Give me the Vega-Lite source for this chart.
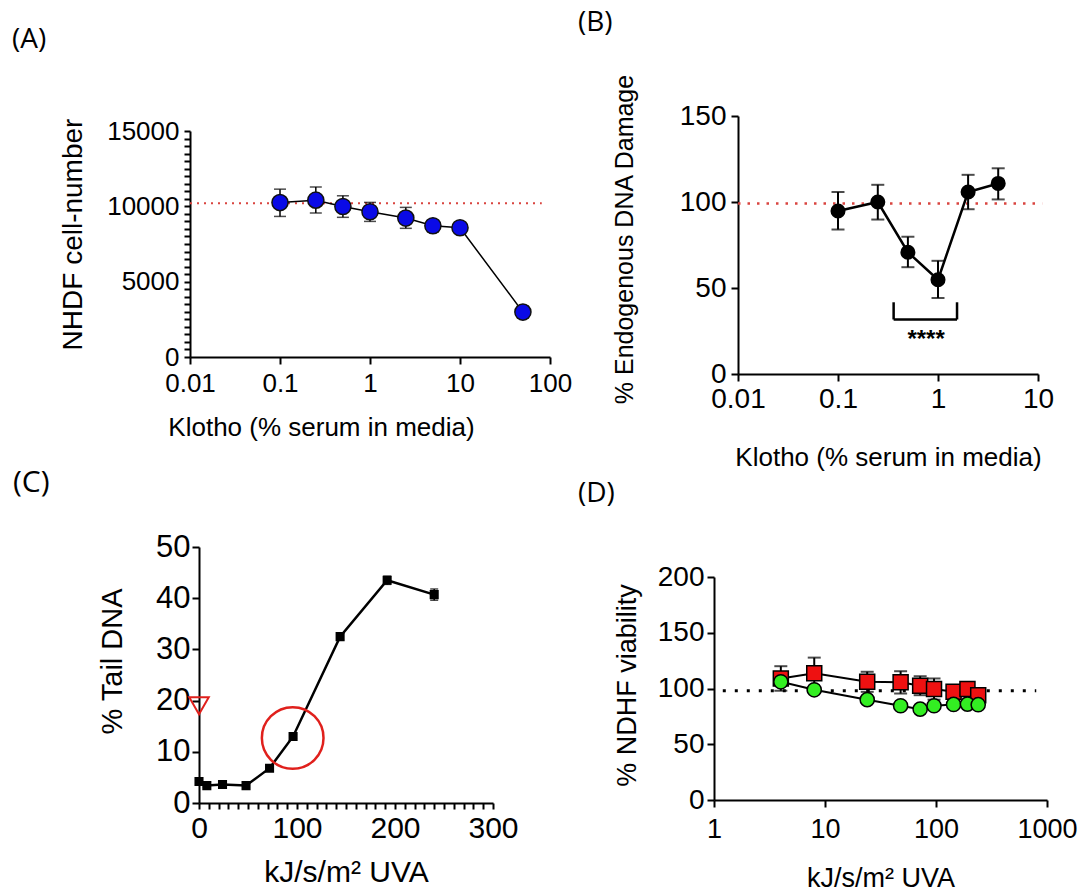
{
  "$schema": "https://vega.github.io/schema/vega-lite/v6.json",
  "background": "white",
  "padding": {"left": 12, "top": 8, "right": 0, "bottom": 0},
  "datasets": {
    "A": [
      {"x": 0.1, "y": 10250, "lo": 9330, "hi": 11140},
      {"x": 0.25, "y": 10410, "lo": 9550, "hi": 11290},
      {"x": 0.5, "y": 9990, "lo": 9270, "hi": 10700},
      {"x": 1, "y": 9640, "lo": 9000, "hi": 10260},
      {"x": 2.5, "y": 9220, "lo": 8540, "hi": 9930},
      {"x": 5, "y": 8710, "lo": 8300, "hi": 9050},
      {"x": 10, "y": 8580, "lo": 8450, "hi": 8710},
      {"x": 50, "y": 2980, "lo": 2580, "hi": 3380}
    ],
    "refA": [{"x": 0.01, "x2": 81, "y": 10200}],
    "B": [
      {"x": 0.1, "y": 94.8, "lo": 84, "hi": 105.8},
      {"x": 0.25, "y": 100, "lo": 89.8, "hi": 110},
      {"x": 0.5, "y": 70.8, "lo": 62.1, "hi": 79.8},
      {"x": 1, "y": 54.8, "lo": 44.2, "hi": 65.8},
      {"x": 2, "y": 105.8, "lo": 95.8, "hi": 115.8},
      {"x": 4, "y": 110.8, "lo": 101.5, "hi": 119.6}
    ],
    "refB": [{"x": 0.01, "x2": 11, "y": 99.2}],
    "bracketB": [
      {"x": 0.36, "x2": 1.55, "y": 31.7, "y2": 31.7},
      {"x": 0.36, "x2": 0.36, "y": 31.7, "y2": 41.7},
      {"x": 1.55, "x2": 1.55, "y": 31.7, "y2": 41.7}
    ],
    "starB": [{"x": 0.76, "y": 20, "label": "****"}],
    "C": [
      {"x": 0, "y": 4.2, "lo": 3.9, "hi": 4.5},
      {"x": 8, "y": 3.4, "lo": 3.1, "hi": 3.7},
      {"x": 24, "y": 3.6, "lo": 3.3, "hi": 3.9},
      {"x": 48, "y": 3.4, "lo": 3.1, "hi": 3.7},
      {"x": 72, "y": 6.8, "lo": 6.5, "hi": 7.1},
      {"x": 96, "y": 13.0, "lo": 12.6, "hi": 13.4},
      {"x": 144, "y": 32.5, "lo": 31.9, "hi": 33.1},
      {"x": 192, "y": 43.5, "lo": 42.7, "hi": 44.3},
      {"x": 240, "y": 40.7, "lo": 39.6, "hi": 41.8}
    ],
    "triC": [{"x": 0, "y": 19}],
    "ringC": [{"x": 95.6, "y": 12.7}],
    "Dred": [
      {"x": 4, "y": 109, "lo": 98, "hi": 120},
      {"x": 8, "y": 113.7, "lo": 99.7, "hi": 127.7},
      {"x": 24, "y": 106, "lo": 97, "hi": 115},
      {"x": 48, "y": 105.5, "lo": 95.5, "hi": 115.5},
      {"x": 72, "y": 102.5, "lo": 94, "hi": 111},
      {"x": 96, "y": 99.5, "lo": 90, "hi": 109},
      {"x": 144, "y": 97, "lo": 93, "hi": 101},
      {"x": 192, "y": 99.5, "lo": 95.5, "hi": 103.5},
      {"x": 240, "y": 94, "lo": 91, "hi": 97}
    ],
    "Dgreen": [
      {"x": 4, "y": 106},
      {"x": 8, "y": 98.8},
      {"x": 24, "y": 90},
      {"x": 48, "y": 84.5},
      {"x": 72, "y": 81.5},
      {"x": 96, "y": 84.5},
      {"x": 144, "y": 85.7},
      {"x": 192, "y": 86},
      {"x": 240, "y": 85.5}
    ],
    "refD": [{"x": 1.2, "x2": 800, "y": 98}]
  },
  "columns": 1,
  "align": "none",
  "spacing": -2,
  "concat": [
    {
      "hconcat": [
        {
          "width": 360,
          "height": 241,
          "title": {"text": "(A)", "anchor": "start", "frame": "group", "dx": -178, "offset": 62, "fontSize": 28, "font": "Open Sans", "fontWeight": "normal", "color": "black"},
          "data": {"name": "A"},
          "encoding": {
            "x": {"field": "x", "type": "quantitative",
              "scale": {"type": "log", "domain": [0.01, 100], "nice": false},
              "axis": {"values": [0.01, 0.1, 1, 10, 100], "format": "~g", "title": "Klotho (% serum in media)", "titleX": 131, "labelFontSize": 26, "titleFontSize": 26, "titlePadding": 18, "labelPadding": 6, "labelFlush": false, "labelOverlap": false}},
            "y": {"field": "y", "type": "quantitative",
              "scale": {"domain": [0, 15000], "range": [241, 15], "nice": false, "zero": false},
              "axis": {"values": [0,500,1000,1500,2000,2500,3000,3500,4000,4500,5000,5500,6000,6500,7000,7500,8000,8500,9000,9500,10000,10500,11000,11500,12000,12500,13000,13500,14000,14500,15000],
                "format": "d", "labelExpr": "datum.value % 5000 === 0 ? datum.label : ''", "title": "NHDF cell-number", "titleY": 118, "labelFontSize": 26, "titleFontSize": 28, "tickSize": 6, "labelPadding": 5, "titlePadding": 19, "labelFlush": false, "labelOverlap": false}}
          },
          "layer": [
            {"data": {"name": "refA"}, "mark": {"type": "rule", "color": "#d9443f", "strokeWidth": 2, "strokeDash": [2, 5]}, "encoding": {"x2": {"field": "x2"}}},
            {"mark": {"type": "line", "color": "black", "strokeWidth": 1.5}},
            {"mark": {"type": "rule", "color": "black", "strokeWidth": 1.5}, "encoding": {"y": {"field": "lo", "type": "quantitative"}, "y2": {"field": "hi"}}},
            {"mark": {"type": "tick", "orient": "horizontal", "color": "black", "thickness": 1.5}, "encoding": {"y": {"field": "lo", "type": "quantitative"}, "size": {"value": 12}}},
            {"mark": {"type": "tick", "orient": "horizontal", "color": "black", "thickness": 1.5}, "encoding": {"y": {"field": "hi", "type": "quantitative"}, "size": {"value": 12}}},
            {"mark": {"type": "point", "shape": "circle", "filled": true, "fill": "#0a0ae6", "stroke": "#111111", "strokeWidth": 1.5, "size": 260, "opacity": 1}}
          ]
        },
        {
          "width": 300,
          "height": 258,
          "title": {"text": "(B)", "anchor": "start", "frame": "group", "dx": -160, "offset": 37, "fontSize": 28, "font": "Open Sans", "fontWeight": "normal", "color": "black"},
          "data": {"name": "B"},
          "encoding": {
            "x": {"field": "x", "type": "quantitative",
              "scale": {"type": "log", "domain": [0.01, 10], "nice": false},
              "axis": {"values": [0.01, 0.1, 1, 10], "format": "~g", "title": "Klotho (% serum in media)", "labelFontSize": 28, "titleFontSize": 26, "titlePadding": 31, "labelPadding": 4, "labelFlush": false, "labelOverlap": false}},
            "y": {"field": "y", "type": "quantitative",
              "scale": {"domain": [0, 150], "nice": false},
              "axis": {"values": [0, 50, 100, 150], "title": "% Endogenous DNA Damage", "titleY": 123, "labelFontSize": 28, "titleFontSize": 25, "labelPadding": 5, "titlePadding": 42, "labelFlush": false, "labelOverlap": false}}
          },
          "layer": [
            {"data": {"name": "refB"}, "mark": {"type": "rule", "color": "#d9443f", "strokeWidth": 2.5, "strokeDash": [2.5, 7]}, "encoding": {"x2": {"field": "x2"}}},
            {"mark": {"type": "line", "color": "black", "strokeWidth": 2.5}},
            {"mark": {"type": "rule", "color": "black", "strokeWidth": 2}, "encoding": {"y": {"field": "lo", "type": "quantitative"}, "y2": {"field": "hi"}}},
            {"mark": {"type": "tick", "orient": "horizontal", "color": "black", "thickness": 2}, "encoding": {"y": {"field": "lo", "type": "quantitative"}, "size": {"value": 13}}},
            {"mark": {"type": "tick", "orient": "horizontal", "color": "black", "thickness": 2}, "encoding": {"y": {"field": "hi", "type": "quantitative"}, "size": {"value": 13}}},
            {"mark": {"type": "point", "shape": "circle", "filled": true, "fill": "black", "stroke": "black", "size": 170, "opacity": 1}},
            {"data": {"name": "bracketB"}, "mark": {"type": "rule", "color": "black", "strokeWidth": 2.5}, "encoding": {"x2": {"field": "x2"}, "y2": {"field": "y2"}}},
            {"data": {"name": "starB"}, "mark": {"type": "text", "fontSize": 24, "fontWeight": "bold", "font": "Liberation Sans", "baseline": "middle", "align": "center", "color": "black"}, "encoding": {"text": {"field": "label"}}}
          ]
        }
      ],
      "spacing": 188,
      "bounds": "flush"
    },
    {
      "hconcat": [
        {
          "width": 303,
          "height": 256,
          "title": {"text": "(C)", "anchor": "start", "frame": "group", "dx": -177, "offset": 33, "fontSize": 30, "font": "Open Sans", "fontWeight": "normal", "color": "black"},
          "data": {"name": "C"},
          "encoding": {
            "x": {"field": "x", "type": "quantitative",
              "scale": {"domain": [0, 300], "range": [9, 303], "nice": false},
              "axis": {"values": [0,10,20,30,40,50,60,70,80,90,100,110,120,130,140,150,160,170,180,190,200,210,220,230,240,250,260,270,280,290,300],
                "labelExpr": "datum.value % 100 === 0 ? datum.label : ''", "title": "kJ/s/m² UVA", "labelFontSize": 30, "titleFontSize": 30, "tickSize": 6, "labelPadding": 4, "titlePadding": 14, "labelFlush": false, "labelOverlap": false}},
            "y": {"field": "y", "type": "quantitative",
              "scale": {"domain": [0, 50], "nice": false},
              "axis": {"values": [0, 10, 20, 30, 40, 50], "offset": -9, "title": "% Tail DNA", "titleY": 114, "labelFontSize": 31, "titleFontSize": 29, "labelPadding": 2, "titlePadding": 28, "labelFlush": false, "labelOverlap": false}}
          },
          "layer": [
            {"mark": {"type": "line", "color": "black", "strokeWidth": 2.5}},
            {"mark": {"type": "rule", "color": "black", "strokeWidth": 1.5}, "encoding": {"y": {"field": "lo", "type": "quantitative"}, "y2": {"field": "hi"}}},
            {"mark": {"type": "tick", "orient": "horizontal", "color": "black", "thickness": 1.5}, "encoding": {"y": {"field": "lo", "type": "quantitative"}, "size": {"value": 8}}},
            {"mark": {"type": "tick", "orient": "horizontal", "color": "black", "thickness": 1.5}, "encoding": {"y": {"field": "hi", "type": "quantitative"}, "size": {"value": 8}}},
            {"mark": {"type": "point", "shape": "square", "filled": true, "fill": "black", "stroke": "black", "size": 50, "opacity": 1}},
            {"data": {"name": "triC"}, "mark": {"type": "point", "shape": "triangle-down", "filled": false, "stroke": "#e0201c", "strokeWidth": 2, "size": 380, "opacity": 1}},
            {"data": {"name": "ringC"}, "mark": {"type": "point", "shape": "circle", "filled": false, "stroke": "#e0201c", "strokeWidth": 2.5, "size": 3800, "opacity": 1}}
          ]
        },
        {
          "width": 333,
          "height": 253,
          "title": {"text": "(D)", "anchor": "start", "frame": "group", "dx": -136, "offset": 39, "fontSize": 28, "font": "Open Sans", "fontWeight": "normal", "color": "black"},
          "data": {"name": "Dred"},
          "encoding": {
            "x": {"field": "x", "type": "quantitative",
              "scale": {"type": "log", "domain": [1, 1000], "nice": false},
              "axis": {"values": [1, 10, 100, 1000], "format": "~g", "title": "kJ/s/m² UVA", "labelFontSize": 27, "titleFontSize": 27, "labelPadding": 9, "titlePadding": 23, "labelFlush": false, "labelOverlap": false}},
            "y": {"field": "y", "type": "quantitative",
              "scale": {"domain": [0, 200], "range": [253, 30], "nice": false, "zero": false},
              "axis": {"values": [0, 50, 100, 150, 200], "title": "% NDHF viability", "titleY": 138, "labelFontSize": 28, "titleFontSize": 27, "labelPadding": 3, "titlePadding": 16, "labelFlush": false, "labelOverlap": false}}
          },
          "layer": [
            {"data": {"name": "refD"}, "mark": {"type": "rule", "color": "black", "strokeWidth": 3, "strokeDash": [3, 9]}, "encoding": {"x2": {"field": "x2"}}},
            {"mark": {"type": "line", "color": "black", "strokeWidth": 2}},
            {"mark": {"type": "rule", "color": "black", "strokeWidth": 2}, "encoding": {"y": {"field": "lo", "type": "quantitative"}, "y2": {"field": "hi"}}},
            {"mark": {"type": "tick", "orient": "horizontal", "color": "black", "thickness": 2}, "encoding": {"y": {"field": "lo", "type": "quantitative"}, "size": {"value": 13}}},
            {"mark": {"type": "tick", "orient": "horizontal", "color": "black", "thickness": 2}, "encoding": {"y": {"field": "hi", "type": "quantitative"}, "size": {"value": 13}}},
            {"mark": {"type": "point", "shape": "square", "filled": true, "fill": "#ee1111", "stroke": "black", "strokeWidth": 1.5, "size": 225, "opacity": 1}},
            {"data": {"name": "Dgreen"}, "mark": {"type": "line", "color": "black", "strokeWidth": 2}},
            {"data": {"name": "Dgreen"}, "mark": {"type": "point", "shape": "circle", "filled": true, "fill": "#33ee22", "stroke": "black", "strokeWidth": 1.5, "size": 200, "opacity": 1}}
          ]
        }
      ],
      "spacing": 221,
      "bounds": "flush"
    }
  ],
  "config": {
    "view": {"stroke": null},
    "axis": {"grid": false, "domainColor": "black", "tickColor": "black", "labelColor": "black", "titleColor": "black", "labelFont": "Liberation Sans", "titleFont": "Liberation Sans", "titleFontWeight": "normal", "domainWidth": 2, "tickWidth": 2, "tickSize": 7}
  }
}
